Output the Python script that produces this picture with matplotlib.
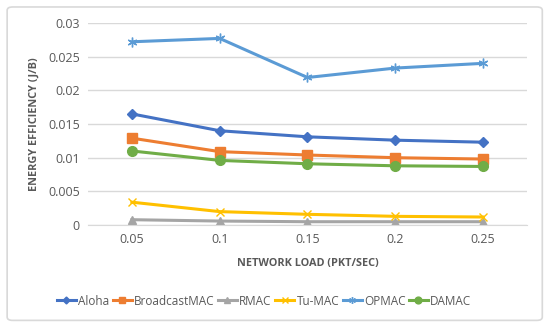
import numpy as np
import matplotlib.pyplot as plt
from matplotlib.patches import FancyBboxPatch

loads = ["0.05", "0.1", "0.15", "0.2", "0.25"]
aloha = [0.0165, 0.0140, 0.0131, 0.0126, 0.0123]
broadcast_mac = [0.0129, 0.0109, 0.0104, 0.0100, 0.0098]
rmac = [0.0008, 0.0006, 0.0005, 0.0005, 0.0005]
tu_mac = [0.0034, 0.0020, 0.0016, 0.0013, 0.0012]
opmac = [0.0272, 0.0277, 0.0219, 0.0233, 0.0240]
damac = [0.0110, 0.0096, 0.0091, 0.0088, 0.0087]

plt.rcParams['font.family'] = ['Open Sans', 'DejaVu Sans']

fig = plt.figure(figsize=(5.5, 3.32), dpi=100)
ax = fig.add_axes([0.16, 0.322, 0.798, 0.609])

# chart border
fig.patches.append(FancyBboxPatch((0.013, 0.035), 0.973, 0.944,
                                  boxstyle="round,pad=0,rounding_size=0.01",
                                  transform=fig.transFigure, fill=False,
                                  edgecolor='#D9D9D9', linewidth=1.2))

x = np.arange(len(loads))
series = [
    ("Aloha", aloha, '#4472C4', 'D', 5),
    ("BroadcastMAC", broadcast_mac, '#ED7D31', 's', 7),
    ("RMAC", rmac, '#A5A5A5', '^', 6),
    ("Tu-MAC", tu_mac, '#FFC000', 'x', 6),
    ("OPMAC", opmac, '#5B9BD5', (6, 2, 0), 7),
    ("DAMAC", damac, '#70AD47', 'o', 7),
]
for name, vals, color, marker, ms in series:
    ax.plot(x, vals, color=color, marker=marker, markersize=ms, linewidth=2.2,
            markeredgewidth=1.0, label=name)

ax.set_xlim(-0.5, len(loads) - 0.5)
ax.set_ylim(0, 0.03)
ax.set_yticks([0, 0.005, 0.01, 0.015, 0.02, 0.025, 0.03])
ax.set_yticklabels(["0", "0.005", "0.01", "0.015", "0.02", "0.025", "0.03"])
ax.set_xticks(x)
ax.set_xticklabels(loads)
ax.tick_params(axis='both', length=0, labelsize=9, colors='#595959', pad=6)
ax.grid(axis='y', color='#D9D9D9', linewidth=1)
ax.set_axisbelow(True)
for s in ['top', 'right', 'left']:
    ax.spines[s].set_visible(False)
ax.spines['bottom'].set_color('#D9D9D9')

ax.set_xlabel("NETWORK LOAD (PKT/SEC)", fontsize=7.8, fontweight='bold',
              color='#595959', labelpad=8)
ax.set_ylabel("ENERGY EFFICIENCY (J/B)", fontsize=7.8, fontweight='bold',
              color='#595959', labelpad=6)

fig.legend(loc='center', bbox_to_anchor=(0.48, 0.093), ncol=6, frameon=False,
           fontsize=8.5, handlelength=1.6, handletextpad=0.2, columnspacing=0.3,
           markerscale=0.7, labelcolor='#595959')

fig.savefig("out.png", dpi=100)
